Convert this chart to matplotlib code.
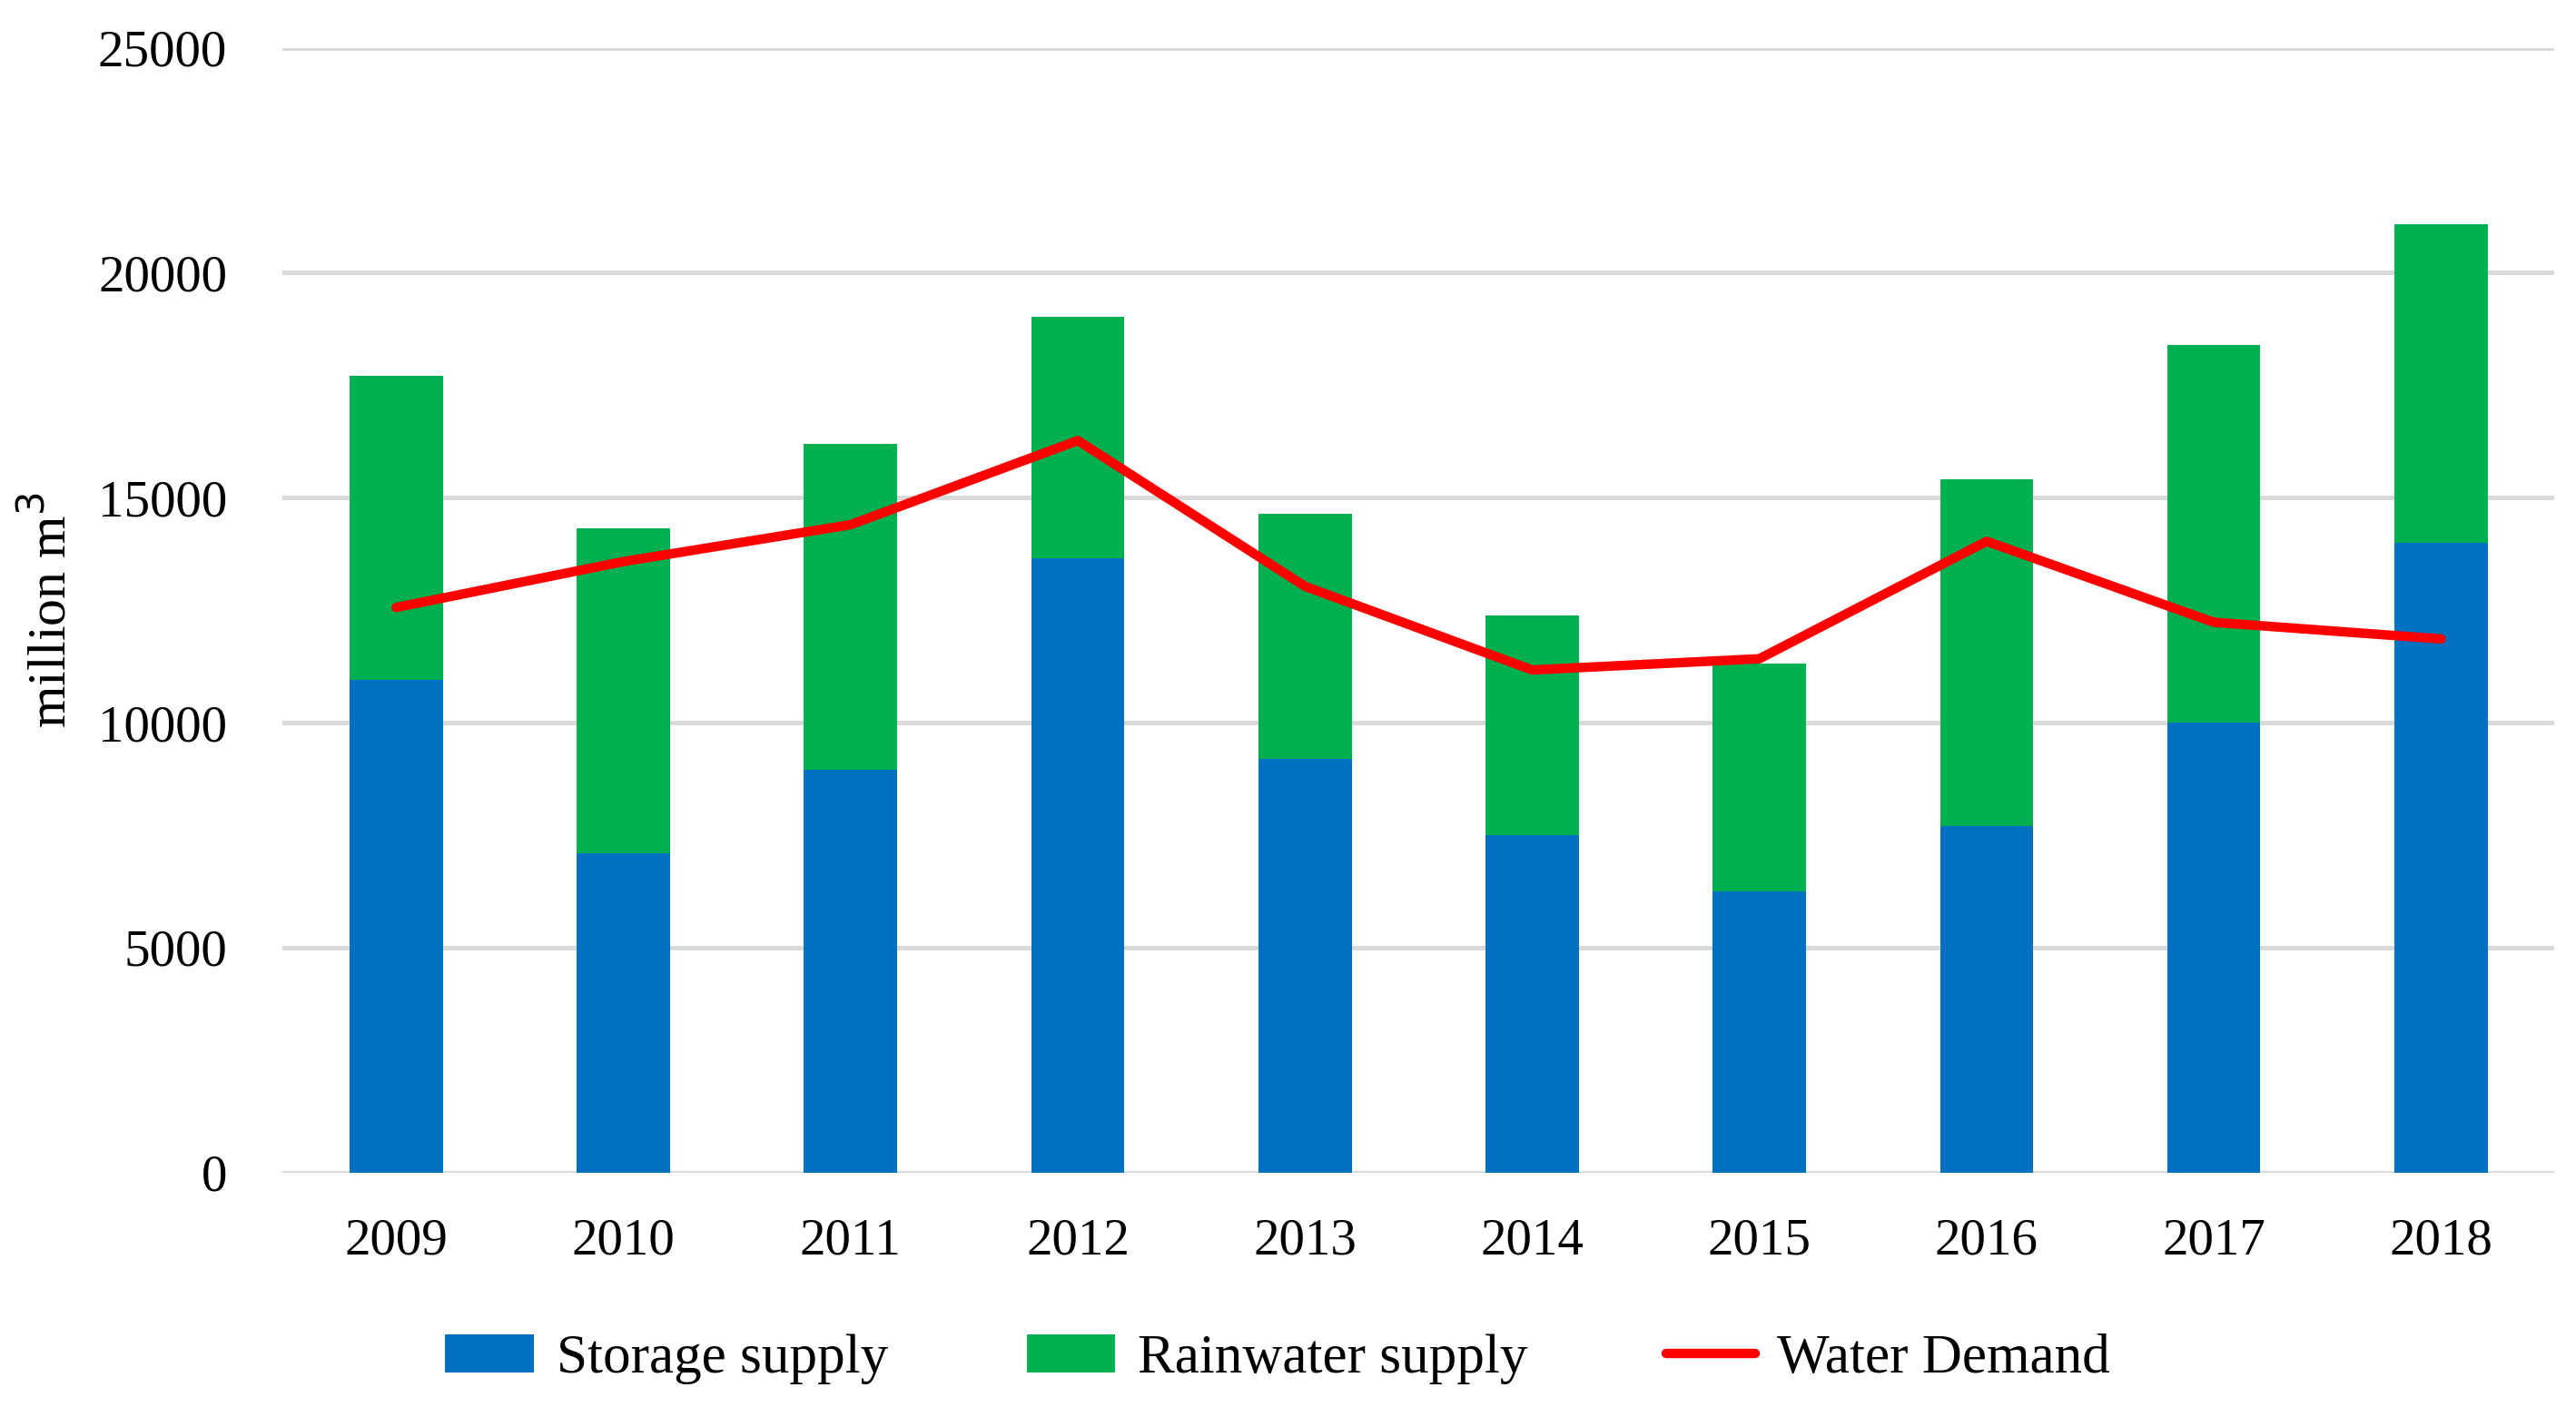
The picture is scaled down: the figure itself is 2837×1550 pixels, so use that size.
import matplotlib
matplotlib.use("Agg")
import matplotlib.pyplot as plt
import numpy as np

years = ["2009", "2010", "2011", "2012", "2013",
         "2014", "2015", "2016", "2017", "2018"]
storage_supply = [10950, 7100, 8950, 13650, 9200, 7500, 6250, 7700, 10000, 14000]
total_supply = [17700, 14320, 16200, 19020, 14650, 12380, 11320, 15400, 18400, 21070]
water_demand = [12560, 13580, 14400, 16270, 13030, 11170, 11420, 14030, 12230, 11860]
y_ticks = [0, 5000, 10000, 15000, 20000, 25000]

rainwater_supply = [t - s for t, s in zip(total_supply, storage_supply)]

plt.rcParams["font.family"] = ["Liberation Serif", "DejaVu Serif"]

fig = plt.figure(figsize=(28.37, 15.5), dpi=100)
ax = fig.add_axes([0.1097, 0.1667, 0.882, 0.7993])

x = np.arange(len(years))
b1 = ax.bar(x, storage_supply, width=0.41, color="#0070C0",
            label="Storage supply", zorder=2)
b2 = ax.bar(x, rainwater_supply, width=0.41, bottom=storage_supply,
            color="#00B050", label="Rainwater supply", zorder=2)
ln, = ax.plot(x, water_demand, color="#FF0000", linewidth=7.5,
              solid_capstyle="round", label="Water Demand", zorder=3)

ax.set_xlim(-0.5, len(years) - 0.5)
ax.set_ylim(0, 25000)
ax.set_yticks(y_ticks)
ax.set_xticks(x)
ax.set_xticklabels(years)
ax.yaxis.grid(True, color="#d9d9d9", linewidth=3.5, zorder=0)
ax.set_axisbelow(True)
for side in ["top", "right", "left", "bottom"]:
    ax.spines[side].set_visible(False)
ax.tick_params(axis="both", length=0, labelsize=41)
ax.tick_params(axis="y", pad=44)
ax.tick_params(axis="x", pad=36)
ax.set_ylabel("million m$^3$", fontsize=43, labelpad=16)

fig.legend(handles=[b1, b2, ln], loc="center", bbox_to_anchor=(0.496, 0.034),
           ncol=3, frameon=False, fontsize=44, handlelength=1.6,
           handleheight=0.68, handletextpad=0.4, columnspacing=2.5)

fig.savefig("out.png", dpi=100)
